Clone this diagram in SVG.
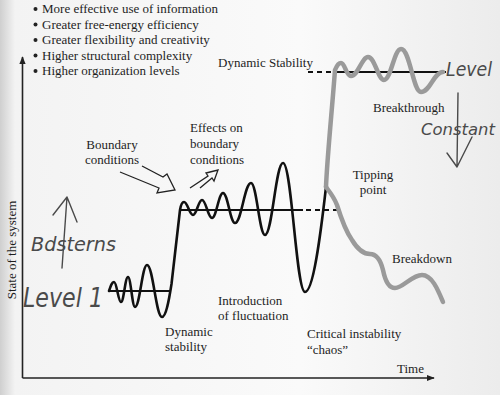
<svg xmlns="http://www.w3.org/2000/svg" width="500" height="395" viewBox="0 0 500 395">
<defs>
<linearGradient id="paper" x1="0" y1="0" x2="1" y2="0">
<stop offset="0" stop-color="#cfcfcf"/>
<stop offset="0.03" stop-color="#f3f3f3"/>
<stop offset="0.6" stop-color="#fafafa"/>
<stop offset="1" stop-color="#ececec"/>
</linearGradient>
<marker id="ax" viewBox="0 0 10 10" refX="9" refY="5" markerWidth="5" markerHeight="5" orient="auto">
<path d="M0,1 L10,5 L0,9 z" fill="#222"/>
</marker>
<style>
.t{font-family:"Liberation Serif","DejaVu Serif",serif;font-size:13px;fill:#1e1e1e}
.h{font-family:"DejaVu Sans ExtraLight","DejaVu Sans",sans-serif;font-style:italic;font-weight:200;fill:#4a4a4a}
.hl{fill:none;stroke:#4a4a4a;stroke-width:1.4;stroke-linecap:round;stroke-linejoin:round}
.blk{fill:none;stroke:#111;stroke-width:2.6;stroke-linecap:round;stroke-linejoin:round}
.lvl{fill:none;stroke:#111;stroke-width:2.2}
.dash{fill:none;stroke:#111;stroke-width:2.2;stroke-dasharray:5 4}
.gry{fill:none;stroke:#9a9a9a;stroke-width:4.5;stroke-linecap:round;stroke-linejoin:round}
.arr{fill:none;stroke:#222;stroke-width:1.3;stroke-linejoin:miter}
</style>
</defs>
<rect x="0" y="0" width="500" height="395" fill="url(#paper)"/>

<g id="bullets">
<g fill="#222"><circle cx="35.5" cy="9" r="2"/><circle cx="35.5" cy="24.5" r="2"/><circle cx="35.5" cy="40" r="2"/><circle cx="35.5" cy="55.5" r="2"/><circle cx="35.5" cy="71" r="2"/></g>
<text class="t" x="42" y="13">More effective use of information</text>
<text class="t" x="42" y="28.5">Greater free-energy efficiency</text>
<text class="t" x="42" y="44">Greater flexibility and creativity</text>
<text class="t" x="42" y="59.5">Higher structural complexity</text>
<text class="t" x="42" y="75">Higher organization levels</text>
</g>

<g id="axes">
<line x1="22.5" y1="378" x2="22.5" y2="57" stroke="#222" stroke-width="1.6" marker-end="url(#ax)"/>
<line x1="22.5" y1="378" x2="434" y2="378" stroke="#222" stroke-width="1.6" marker-end="url(#ax)"/>
<text class="t" transform="translate(16,250) rotate(-90)" text-anchor="middle">State of the system</text>
<text class="t" x="397" y="373">Time</text>
</g>

<g id="connectors">
<line class="lvl" x1="108" y1="291" x2="170" y2="291"/>
<line class="lvl" x1="181" y1="210" x2="303" y2="210"/>
<line class="dash" x1="306" y1="210" x2="338" y2="210"/>
<line class="dash" x1="308" y1="72" x2="335" y2="72"/>
<line class="lvl" x1="335" y1="72" x2="446" y2="72"/>
<path class="blk" d="M109,291 C111,285 112,282 114,282 C116.8,282 118.2,302 121,302 C123.8,302 125.2,277 128,277 C130.8,277 132.2,307 135,307 C139.8,307 142.2,265 147,265 C153,265 156,317 162,317 C166,317 169,300 171.5,284 L180,210 C181,204 182,202 184,202 C187.6,202 189.4,215 193,215 C196.6,215 198.4,200 202,200 C206,200 208,218 212,218 C216.4,218 218.6,193 223,193 C227.8,193 230.2,223 235,223 C241.4,223 244.6,183 251,183 C256.6,183 259.4,235 265,235 C272.2,235 275.8,163 283,163 C291.8,163 296.2,292 305,292 C313,292 320,240 326,187"/>
<path class="gry" d="M326,187 C327,160 332,110 335,70 C337,65 339,63 341,63 C345,63 346,76 351,76 C358,76 362,57 368,57 C375,57 378,80 384,80 C391,80 394,49 401,49 C410,49 413,92 421,92 C430,92 434,72 443,72"/>
<path class="gry" d="M326,187 C329,191 334,197 337,205 C341,218 345,230 352,240 C358,250 363,254 370,254 C378,254 381,262 383,270 C385,280 388,288 395,288 C403,288 412,275 422,275 C432,275 438,290 443,302"/>
</g>

<g id="boundary-conditions">
<text class="t" x="112" y="149" text-anchor="middle">Boundary</text>
<text class="t" x="112" y="164" text-anchor="middle">conditions</text>
<path class="arr" d="M142,166 L163,177 L167,174 L175,190 L157,193 L159,188 L120,172"/>
</g>

<g id="effects-on-boundary-conditions">
<text class="t" x="190" y="132">Effects on</text>
<text class="t" x="190" y="148">boundary</text>
<text class="t" x="190" y="164">conditions</text>
<path class="arr" d="M190,188 L208,176 L206,173 L218,170 L214,181 L212,178 L200,188"/>
</g>

<g id="labels">
<text class="t" x="218" y="67">Dynamic Stability</text>
<text class="t" x="373" y="112">Breakthrough</text>
<text class="t" x="373" y="179" text-anchor="middle">Tipping</text>
<text class="t" x="373" y="194" text-anchor="middle">point</text>
<text class="t" x="392" y="263">Breakdown</text>
<text class="t" x="218" y="305">Introduction</text>
<text class="t" x="218" y="320">of fluctuation</text>
<text class="t" x="165" y="336">Dynamic</text>
<text class="t" x="165" y="351">stability</text>
<text class="t" x="307" y="338">Critical instability</text>
<text class="t" x="307" y="354">“chaos”</text>
</g>

<g id="handwriting">
<text class="h" x="23" y="307" font-size="26" textLength="80" lengthAdjust="spacingAndGlyphs">Level 1</text>
<text class="h" x="31" y="251" font-size="20" textLength="85" lengthAdjust="spacingAndGlyphs">Bdsterns</text>
<path class="hl" d="M62,268 L67,197 M53,215 L67,197 L77,222"/>
<text class="h" x="446" y="76" font-size="19" textLength="46" lengthAdjust="spacingAndGlyphs">Level</text>
<text class="h" x="421" y="135" font-size="16" textLength="74" lengthAdjust="spacingAndGlyphs">Constant</text>
<path class="hl" d="M458,93 L457,167 M447,153 L457,167 L472,137"/>
</g>
</svg>
